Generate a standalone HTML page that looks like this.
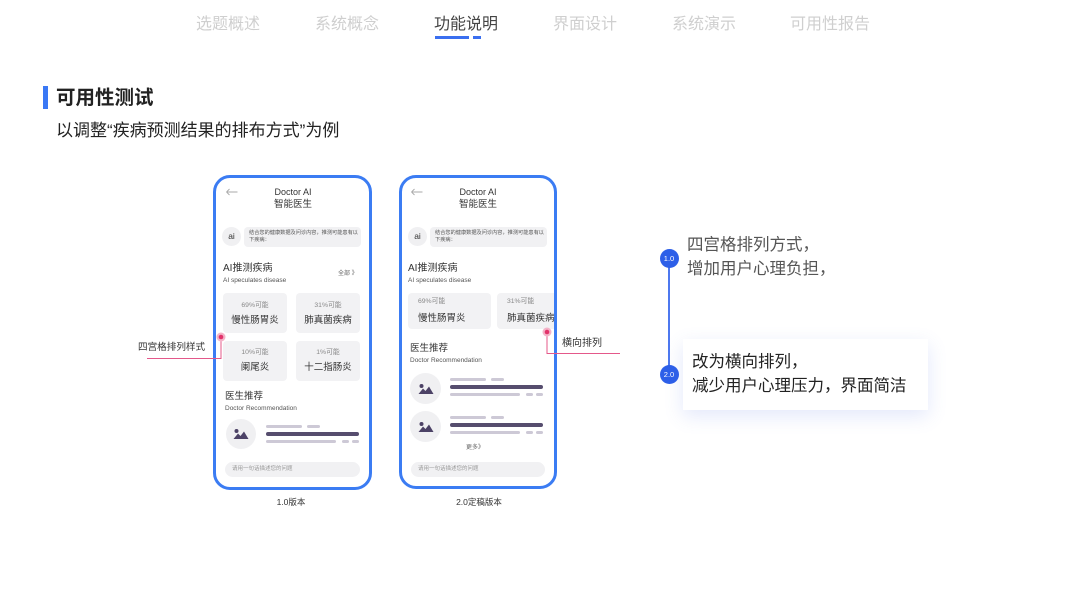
<!DOCTYPE html>
<html><head><meta charset="utf-8">
<style>
*{margin:0;padding:0;box-sizing:border-box}
html,body{width:1067px;height:600px;background:#fff;overflow:hidden}
body{position:relative;font-family:"Liberation Sans","Noto Sans CJK SC",sans-serif;color:#333}
.a{position:absolute;white-space:nowrap}
.nav{top:13px;line-height:24px;font-size:16px;color:#cfcfcf;text-align:center}
.card{position:absolute;background:#f2f2f4;border-radius:4px}
.av{position:absolute;background:#f0f0f2;border-radius:50%}
.bl{position:absolute;height:3px;border-radius:2px;background:#cdc9d6}
.bd{position:absolute;height:4px;border-radius:2px;background:#564d6e}
.inp{position:absolute;background:#f1f1f3;border-radius:8px;height:15px}
.frame{position:absolute;border:3px solid #3b7cf3;border-radius:17px}
.bub{position:absolute;background:#f1f1f3;border-radius:4px;height:20px;font-size:5.2px;line-height:7px;color:#555;padding:3px 0 0 5px;white-space:nowrap;overflow:hidden}
.aic{position:absolute;width:19px;height:19px;border-radius:50%;background:#f0f0f2;font-size:8.5px;line-height:19px;text-align:center;color:#333}
.pct{font-size:6.8px;color:#888}
.nm{font-size:9.5px;color:#333}
</style></head><body>

<!-- nav -->
<div class="a nav" style="left:196px;width:64px">选题概述</div>
<div class="a nav" style="left:315px;width:64px">系统概念</div>
<div class="a nav" style="left:434px;width:64px;color:#444">功能说明</div>
<div class="a nav" style="left:553px;width:64px">界面设计</div>
<div class="a nav" style="left:672px;width:64px">系统演示</div>
<div class="a nav" style="left:790px;width:80px">可用性报告</div>
<div class="a" style="left:435px;top:36px;width:34px;height:3px;background:#3a6ff0"></div>
<div class="a" style="left:473px;top:36px;width:8px;height:3px;background:#3a6ff0"></div>

<!-- title -->
<div class="a" style="left:43px;top:86px;width:5px;height:23px;background:#3a78f5"></div>
<div class="a" style="left:56px;top:84px;line-height:28px;font-size:19.5px;font-weight:bold;color:#222">可用性测试</div>
<div class="a" style="left:56px;top:118px;line-height:26px;font-size:17px;color:#222">以调整“疾病预测结果的排布方式”为例</div>

<!-- ============ PHONE 1 ============ -->
<svg class="a" style="left:225px;top:187px" width="14" height="10"><path d="M1.5 5H12.5M1.5 5L4.5 2M1.5 5L4.5 8" stroke="#aaa" stroke-width="0.9" fill="none"/></svg>
<div class="a" style="left:243px;top:186px;width:100px;text-align:center;font-size:9px;line-height:12px;color:#333">Doctor AI</div>
<div class="a" style="left:243px;top:199px;width:100px;text-align:center;font-size:9.5px;line-height:12px;color:#333">智能医生</div>
<div class="aic" style="left:222px;top:227px">ai</div>
<div class="bub" style="left:244px;top:227px;width:117px">结合您的健康数据及问诊内容，推测可能患有以<br>下疾病：</div>
<div class="a" style="left:223px;top:262px;line-height:14px;font-size:10px;color:#333">AI推测疾病</div>
<div class="a" style="left:223px;top:276px;line-height:10px;font-size:6.5px;color:#555">AI speculates disease</div>
<div class="a" style="left:338px;top:269px;line-height:10px;font-size:6px;color:#666">全部 》</div>

<div class="card" style="left:223px;top:293px;width:64px;height:40px"></div>
<div class="card" style="left:296px;top:293px;width:64px;height:40px"></div>
<div class="card" style="left:223px;top:341px;width:64px;height:40px"></div>
<div class="card" style="left:296px;top:341px;width:64px;height:40px"></div>
<div class="a pct" style="left:223px;width:64px;text-align:center;top:301px;line-height:10px">69%可能</div>
<div class="a nm" style="left:223px;width:64px;text-align:center;top:315px;line-height:12px">慢性肠胃炎</div>
<div class="a pct" style="left:296px;width:64px;text-align:center;top:301px;line-height:10px">31%可能</div>
<div class="a nm" style="left:296px;width:64px;text-align:center;top:315px;line-height:12px">肺真菌疾病</div>
<div class="a pct" style="left:223px;width:64px;text-align:center;top:348px;line-height:10px">10%可能</div>
<div class="a nm" style="left:223px;width:64px;text-align:center;top:362px;line-height:12px">阑尾炎</div>
<div class="a pct" style="left:296px;width:64px;text-align:center;top:348px;line-height:10px">1%可能</div>
<div class="a nm" style="left:296px;width:64px;text-align:center;top:362px;line-height:12px">十二指肠炎</div>

<div class="a" style="left:225px;top:391px;line-height:12px;font-size:9.5px;color:#333">医生推荐</div>
<div class="a" style="left:225px;top:404px;line-height:10px;font-size:6.5px;color:#555">Doctor Recommendation</div>
<div class="av" style="left:226px;top:419px;width:30px;height:30px"></div>
<svg class="a" style="left:233px;top:428px" width="16" height="12"><circle cx="3.5" cy="3" r="2" fill="#4c4266"/><polygon points="0.5,11 5,5.5 7.5,8 11,3.5 15.5,11" fill="#4c4266"/></svg>
<div class="bl" style="left:266px;top:425px;width:36px"></div>
<div class="bl" style="left:307px;top:425px;width:13px"></div>
<div class="bd" style="left:266px;top:432px;width:93px"></div>
<div class="bl" style="left:266px;top:440px;width:70px"></div>
<div class="bl" style="left:342px;top:440px;width:7px"></div>
<div class="bl" style="left:352px;top:440px;width:7px"></div>
<div class="inp" style="left:225px;top:462px;width:135px"></div>
<div class="a" style="left:232px;top:465px;line-height:9px;font-size:5.5px;color:#999">请用一句话描述您的问题</div>
<div class="frame" style="left:213px;top:175px;width:159px;height:315px"></div>
<div class="a" style="left:241px;top:496px;width:100px;text-align:center;line-height:12px;font-size:8.5px;color:#333">1.0版本</div>

<!-- marker 1 -->
<svg class="a" style="left:0;top:0" width="1067" height="600">
<polyline points="221,337 221,358.5 147,358.5" fill="none" stroke="#e4588a" stroke-width="1"/>
<circle cx="221" cy="337" r="4.5" fill="#f4b3c8"/>
<circle cx="221" cy="337" r="2.3" fill="#e2336b"/>
</svg>
<div class="a" style="left:138px;top:342px;line-height:12px;font-size:9.6px;color:#333">四宫格排列样式</div>

<!-- ============ PHONE 2 ============ -->
<svg class="a" style="left:410px;top:187px" width="14" height="10"><path d="M1.5 5H12.5M1.5 5L4.5 2M1.5 5L4.5 8" stroke="#aaa" stroke-width="0.9" fill="none"/></svg>
<div class="a" style="left:428px;top:186px;width:100px;text-align:center;font-size:9px;line-height:12px;color:#333">Doctor AI</div>
<div class="a" style="left:428px;top:199px;width:100px;text-align:center;font-size:9.5px;line-height:12px;color:#333">智能医生</div>
<div class="aic" style="left:408px;top:227px">ai</div>
<div class="bub" style="left:430px;top:227px;width:117px">结合您的健康数据及问诊内容，推测可能患有以<br>下疾病：</div>
<div class="a" style="left:408px;top:262px;line-height:14px;font-size:10px;color:#333">AI推测疾病</div>
<div class="a" style="left:408px;top:276px;line-height:10px;font-size:6.5px;color:#555">AI speculates disease</div>

<div class="card" style="left:408px;top:293px;width:83px;height:36px"></div>
<div class="card" style="left:497px;top:293px;width:57px;height:36px;border-radius:4px 0 0 4px"></div>
<div class="a pct" style="left:418px;top:297px;line-height:10px">69%可能</div>
<div class="a nm" style="left:418px;top:313px;line-height:12px">慢性肠胃炎</div>
<div class="a pct" style="left:507px;top:297px;line-height:10px">31%可能</div>
<div class="a nm" style="left:507px;top:313px;line-height:12px">肺真菌疾病</div>

<div class="a" style="left:410px;top:343px;line-height:12px;font-size:9.5px;color:#333">医生推荐</div>
<div class="a" style="left:410px;top:356px;line-height:10px;font-size:6.5px;color:#555">Doctor Recommendation</div>

<div class="av" style="left:410px;top:373px;width:31px;height:31px"></div>
<svg class="a" style="left:417.5px;top:382.5px" width="16" height="12"><circle cx="3.5" cy="3" r="2" fill="#4c4266"/><polygon points="0.5,11 5,5.5 7.5,8 11,3.5 15.5,11" fill="#4c4266"/></svg>
<div class="bl" style="left:450px;top:378px;width:36px"></div>
<div class="bl" style="left:491px;top:378px;width:13px"></div>
<div class="bd" style="left:450px;top:385px;width:93px"></div>
<div class="bl" style="left:450px;top:393px;width:70px"></div>
<div class="bl" style="left:526px;top:393px;width:7px"></div>
<div class="bl" style="left:536px;top:393px;width:7px"></div>

<div class="av" style="left:410px;top:411px;width:31px;height:31px"></div>
<svg class="a" style="left:417.5px;top:420.5px" width="16" height="12"><circle cx="3.5" cy="3" r="2" fill="#4c4266"/><polygon points="0.5,11 5,5.5 7.5,8 11,3.5 15.5,11" fill="#4c4266"/></svg>
<div class="bl" style="left:450px;top:416px;width:36px"></div>
<div class="bl" style="left:491px;top:416px;width:13px"></div>
<div class="bd" style="left:450px;top:423px;width:93px"></div>
<div class="bl" style="left:450px;top:431px;width:70px"></div>
<div class="bl" style="left:526px;top:431px;width:7px"></div>
<div class="bl" style="left:536px;top:431px;width:7px"></div>

<div class="a" style="left:445px;top:443px;width:60px;text-align:center;line-height:10px;font-size:6px;color:#666">更多》</div>
<div class="inp" style="left:411px;top:462px;width:134px"></div>
<div class="a" style="left:418px;top:465px;line-height:9px;font-size:5.5px;color:#999">请用一句话描述您的问题</div>
<div class="frame" style="left:399px;top:175px;width:158px;height:314px"></div>
<div class="a" style="left:429px;top:496px;width:100px;text-align:center;line-height:12px;font-size:8.5px;color:#333">2.0定稿版本</div>

<!-- marker 2 -->
<svg class="a" style="left:0;top:0" width="1067" height="600">
<polyline points="547,332 547,353.5 620,353.5" fill="none" stroke="#e4588a" stroke-width="1"/>
<circle cx="547" cy="332" r="4.5" fill="#f4b3c8"/>
<circle cx="547" cy="332" r="2.3" fill="#e2336b"/>
</svg>
<div class="a" style="left:562px;top:338px;line-height:12px;font-size:10px;color:#333">横向排列</div>

<!-- ============ RIGHT TIMELINE ============ -->
<div class="a" style="left:668.25px;top:258px;width:1.5px;height:116px;background:#4d78ef"></div>
<div class="a" style="left:659.5px;top:248.5px;width:19px;height:19px;border-radius:50%;background:#2d5fe8;color:#fff;font-size:7.5px;line-height:19px;text-align:center">1.0</div>
<div class="a" style="left:659.5px;top:364.5px;width:19px;height:19px;border-radius:50%;background:#2d5fe8;color:#fff;font-size:7.5px;line-height:19px;text-align:center">2.0</div>
<div class="a" style="left:687px;top:233px;line-height:24px;font-size:16.5px;color:#555">四宫格排列方式，<br>增加用户心理负担，</div>
<div class="a" style="left:683px;top:339px;width:245px;height:71px;background:#fff;box-shadow:0 6px 18px rgba(80,110,230,0.16)"></div>
<div class="a" style="left:692px;top:350px;line-height:24px;font-size:16.5px;color:#222">改为横向排列，<br>减少用户心理压力，界面简洁</div>

</body></html>
